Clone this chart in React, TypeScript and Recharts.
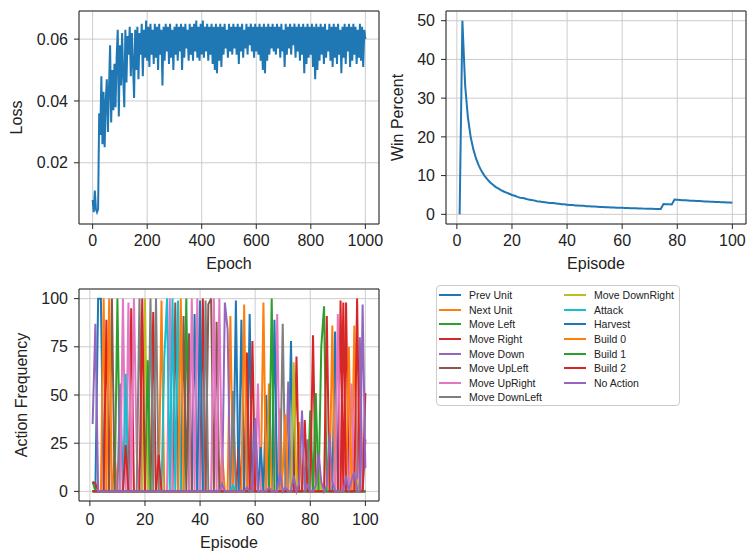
import React from 'react'
import { LineChart, Line, XAxis, YAxis, CartesianGrid, ReferenceArea, Legend } from 'recharts'

const FONT = '"Liberation Sans", Arial, sans-serif'
const TEXT = '#222222'
const GRID = '#cccccc'
const FRAME = '#262626'

// loss sampled every 4 epochs (0..1000)
const lossValues = [
  0.008, 0.004, 0.011, 0.005, 0.004, 0.005, 0.036, 0.029, 0.048, 0.026,
  0.043, 0.025, 0.040, 0.047, 0.030, 0.044, 0.058, 0.033, 0.050, 0.037,
  0.052, 0.038, 0.054, 0.063, 0.035, 0.058, 0.045, 0.062, 0.048, 0.038,
  0.063, 0.046, 0.061, 0.055, 0.064, 0.048, 0.062, 0.052, 0.041, 0.063,
  0.050, 0.064, 0.047, 0.062, 0.055, 0.065, 0.048, 0.063, 0.054, 0.066,
  0.053, 0.064, 0.051, 0.065, 0.055, 0.063, 0.052, 0.065, 0.054, 0.064,
  0.050, 0.065, 0.055, 0.063, 0.045, 0.064, 0.053, 0.065, 0.056, 0.064,
  0.052, 0.065, 0.054, 0.063, 0.050, 0.064, 0.055, 0.065, 0.053, 0.064,
  0.056, 0.065, 0.050, 0.064, 0.054, 0.065, 0.057, 0.063, 0.053, 0.065,
  0.055, 0.064, 0.053, 0.065, 0.056, 0.066, 0.054, 0.064, 0.053, 0.065,
  0.055, 0.066, 0.054, 0.064, 0.056, 0.065, 0.053, 0.064, 0.055, 0.065,
  0.052, 0.064, 0.050, 0.065, 0.049, 0.064, 0.053, 0.065, 0.051, 0.064,
  0.055, 0.065, 0.057, 0.063, 0.054, 0.065, 0.056, 0.064, 0.055, 0.065,
  0.057, 0.064, 0.055, 0.065, 0.052, 0.064, 0.056, 0.065, 0.054, 0.063,
  0.057, 0.065, 0.055, 0.064, 0.058, 0.065, 0.056, 0.064, 0.054, 0.065,
  0.056, 0.064, 0.055, 0.065, 0.053, 0.064, 0.050, 0.065, 0.049, 0.064,
  0.053, 0.065, 0.055, 0.064, 0.057, 0.065, 0.056, 0.064, 0.055, 0.065,
  0.057, 0.064, 0.054, 0.065, 0.056, 0.063, 0.051, 0.065, 0.055, 0.064,
  0.057, 0.065, 0.055, 0.064, 0.058, 0.065, 0.054, 0.064, 0.056, 0.065,
  0.053, 0.064, 0.055, 0.065, 0.049, 0.064, 0.052, 0.065, 0.054, 0.064,
  0.055, 0.065, 0.051, 0.064, 0.047, 0.065, 0.050, 0.064, 0.053, 0.065,
  0.055, 0.064, 0.052, 0.065, 0.054, 0.063, 0.056, 0.065, 0.053, 0.064,
  0.051, 0.065, 0.054, 0.064, 0.052, 0.065, 0.055, 0.063, 0.049, 0.064,
  0.054, 0.065, 0.052, 0.064, 0.056, 0.065, 0.051, 0.064, 0.053, 0.065,
  0.055, 0.064, 0.052, 0.063, 0.054, 0.065, 0.053, 0.064, 0.051, 0.063,
  0.060,
]
const lossXTicks = [0, 200, 400, 600, 800, 1000]
const lossYTicks = [0.02, 0.04, 0.06]

// win percent for episodes 1..100
const winPercent = [
  0, 50, 33.3, 25, 20, 16.7, 14.3, 12.5, 11.1, 10,
  9.1, 8.3, 7.7, 7.1, 6.7, 6.25, 5.9, 5.6, 5.3, 5,
  4.8, 4.5, 4.3, 4.2, 4, 3.8, 3.7, 3.6, 3.4, 3.3,
  3.2, 3.1, 3.0, 2.9, 2.9, 2.8, 2.7, 2.6, 2.6, 2.5,
  2.4, 2.4, 2.3, 2.3, 2.2, 2.2, 2.1, 2.1, 2.0, 2.0,
  1.96, 1.92, 1.89, 1.85, 1.82, 1.79, 1.75, 1.72, 1.69, 1.67,
  1.64, 1.61, 1.59, 1.56, 1.54, 1.52, 1.49, 1.47, 1.45, 1.43,
  1.41, 1.39, 1.37, 1.35, 2.67, 2.63, 2.6, 2.56, 3.8, 3.75,
  3.7, 3.66, 3.61, 3.57, 3.53, 3.49, 3.45, 3.41, 3.37, 3.33,
  3.3, 3.26, 3.23, 3.19, 3.16, 3.13, 3.09, 3.06, 3.03, 3.0,
]
const episodeTicks = [0, 20, 40, 60, 80, 100]
const winYTicks = [0, 10, 20, 30, 40, 50]

const actionNames = [
  'Prev Unit', 'Next Unit', 'Move Left', 'Move Right', 'Move Down',
  'Move UpLeft', 'Move UpRight', 'Move DownLeft', 'Move DownRight', 'Attack',
  'Harvest', 'Build 0', 'Build 1', 'Build 2', 'No Action',
]
const actionColors = [
  '#1f77b4', '#ff7f0e', '#2ca02c', '#d62728', '#9467bd',
  '#8c564b', '#e377c2', '#7f7f7f', '#bcbd22', '#17becf',
  '#1f77b4', '#ff7f0e', '#2ca02c', '#d62728', '#9467bd',
]
// most frequent action per episode (index into actionNames) and its frequency
const topAction = [
  14, 14, 0, 0, 1, 3, 11, 5, 1, 2,
  4, 6, 9, 6, 3, 6, 6, 7, 13, 8,
  12, 7, 3, 7, 13, 1, 9, 9, 6, 9,
  5, 9, 11, 5, 2, 5, 6, 0, 6, 10,
  3, 7, 5, 5, 6, 5, 6, 1, 4, 4,
  1, 7, 0, 3, 10, 11, 3, 0, 13, 14,
  6, 10, 1, 0, 11, 12, 10, 6, 1, 7,
  11, 4, 0, 8, 3, 1, 14, 13, 7, 2,
  3, 12, 8, 2, 2, 13, 14, 1, 0, 6,
  3, 13, 3, 11, 6, 1, 13, 4, 14, 3,
]
const topFrequency = [
  35, 87, 100, 100, 100, 89, 100, 100, 19, 100,
  56, 100, 61, 98, 95, 100, 20, 100, 100, 100,
  68, 100, 93, 100, 19, 99, 68, 100, 100, 100,
  98, 99, 100, 91, 100, 82, 100, 92, 100, 99,
  100, 99, 97, 100, 100, 88, 100, 20, 98, 84,
  91, 52, 99, 23, 89, 97, 72, 92, 78, 38,
  56, 23, 98, 50, 56, 100, 89, 92, 43, 87,
  40, 57, 78, 67, 70, 36, 42, 37, 27, 42,
  81, 51, 18, 75, 96, 91, 30, 86, 83, 92,
  99, 98, 98, 75, 56, 86, 100, 80, 97, 51,
]
// smaller secondary frequencies: [episode, action, frequency]
const minorFrequency: [number, number, number][] = [
  [1, 3, 5], [1, 2, 5], [2, 3, 4], [13, 13, 24], [48, 14, 4], [52, 9, 3],
  [57, 14, 2], [60, 3, 38], [65, 14, 2], [69, 14, 10], [70, 11, 10],
  [71, 14, 2], [74, 14, 8], [76, 14, 4], [79, 14, 3], [82, 14, 3],
  [83, 14, 20], [84, 14, 5], [86, 14, 3], [88, 14, 5], [93, 14, 8],
  [95, 14, 6], [96, 14, 10], [97, 8, 5], [100, 13, 27], [100, 14, 12],
]
const actionYTicks = [0, 25, 50, 75, 100]

const lossData = lossValues.map((v, i) => ({ epoch: i * 4, loss: v }))
const winData = winPercent.map((v, i) => ({ episode: i + 1, win: v }))
const actionData = topAction.map((a, i) => {
  const row: Record<string, number> = { episode: i + 1 }
  actionNames.forEach(n => { row[n] = 0 })
  row[actionNames[a]] = topFrequency[i]
  return row
})
minorFrequency.forEach(([ep, a, f]) => {
  const row = actionData[ep - 1]
  if (row[actionNames[a]] === 0) row[actionNames[a]] = f
})

const tickStyle = { fontSize: 16, fill: TEXT, fontFamily: FONT }
const tickLine = { stroke: FRAME, strokeWidth: 1 }

function ActionLegend(props: any) {
  const items = [...(props.payload || [])].sort(
    (a: any, b: any) => actionNames.indexOf(a.value) - actionNames.indexOf(b.value)
  )
  return (
    <div style={{
      width: 244, height: 121, boxSizing: 'border-box', border: '1px solid #cccccc',
      borderRadius: 4, background: '#fff', padding: '2px 0 0 2px',
      display: 'grid', gridTemplateRows: 'repeat(8, 14.6px)', gridAutoFlow: 'column',
      gridTemplateColumns: '125px 115px', fontFamily: FONT,
    }}>
      {items.map((it: any) => (
        <div key={it.value} style={{ display: 'flex', alignItems: 'center', whiteSpace: 'nowrap' }}>
          <span style={{ display: 'inline-block', width: 22, height: 2, background: it.color, marginRight: 8 }} />
          <span style={{ fontSize: 10.5, color: TEXT }}>{it.value}</span>
        </div>
      ))}
    </div>
  )
}

export default function App() {
  return (
    <div style={{ position: 'absolute', left: 0, top: 0, width: 747, height: 553, background: '#fff', fontFamily: FONT }}>
      <div style={{ position: 'absolute', left: 0, top: 0 }}>
        <LineChart width={400} height={280} data={lossData} margin={{ top: 11, right: 21, left: 0, bottom: 0 }}>
          <CartesianGrid stroke={GRID} strokeWidth={1} />
          <XAxis dataKey="epoch" type="number" domain={[-50, 1050]} ticks={lossXTicks} interval={0}
            allowDataOverflow height={56} axisLine={false} tickSize={5} tickMargin={6}
            tickLine={tickLine} tick={tickStyle}
            label={{ value: 'Epoch', position: 'insideBottom', offset: 11, fill: TEXT, fontSize: 16 }} />
          <YAxis type="number" domain={[0.0002, 0.0691]} ticks={lossYTicks} interval={0}
            allowDataOverflow width={79} axisLine={false} tickSize={5} tickMargin={6}
            tickLine={tickLine} tick={tickStyle} tickFormatter={(v: number) => v.toFixed(2)}
            label={{ value: 'Loss', angle: -90, position: 'insideLeft', offset: 16, fill: TEXT, fontSize: 16, style: { textAnchor: 'middle' } }} />
          <Line dataKey="loss" stroke="#1f77b4" strokeWidth={2} dot={false} isAnimationActive={false} />
          <ReferenceArea x1={-50} x2={1050} y1={0.0002} y2={0.0691} fill="none" stroke={FRAME} strokeWidth={1} ifOverflow="visible" />
        </LineChart>
      </div>

      <div style={{ position: 'absolute', left: 380, top: 0 }}>
        <LineChart width={367} height={280} data={winData} margin={{ top: 11, right: 1, left: 0, bottom: 0 }}>
          <CartesianGrid stroke={GRID} strokeWidth={1} />
          <XAxis dataKey="episode" type="number" domain={[-3.95, 104.95]} ticks={episodeTicks} interval={0}
            allowDataOverflow height={56} axisLine={false} tickSize={5} tickMargin={6}
            tickLine={tickLine} tick={tickStyle}
            label={{ value: 'Episode', position: 'insideBottom', offset: 11, fill: TEXT, fontSize: 16 }} />
          <YAxis type="number" domain={[-2.5, 52.5]} ticks={winYTicks} interval={0}
            allowDataOverflow width={66} axisLine={false} tickSize={5} tickMargin={6}
            tickLine={tickLine} tick={tickStyle}
            label={{ value: 'Win Percent', angle: -90, position: 'insideLeft', offset: 17, fill: TEXT, fontSize: 16, style: { textAnchor: 'middle' } }} />
          <Line dataKey="win" stroke="#1f77b4" strokeWidth={2} dot={false} isAnimationActive={false} />
          <ReferenceArea x1={-3.95} x2={104.95} y1={-2.5} y2={52.5} fill="none" stroke={FRAME} strokeWidth={1} ifOverflow="visible" />
        </LineChart>
      </div>

      <div style={{ position: 'absolute', left: 0, top: 280 }}>
        <LineChart width={747} height={273} data={actionData} margin={{ top: 9, right: 368, left: 0, bottom: 0 }}>
          <CartesianGrid stroke={GRID} strokeWidth={1} />
          <XAxis dataKey="episode" type="number" domain={[-3.95, 104.95]} ticks={episodeTicks} interval={0}
            allowDataOverflow height={52} axisLine={false} tickSize={5} tickMargin={8}
            tickLine={tickLine} tick={tickStyle}
            label={{ value: 'Episode', position: 'insideBottom', offset: 5, fill: TEXT, fontSize: 16 }} />
          <YAxis type="number" domain={[-5, 105]} ticks={actionYTicks} interval={0}
            allowDataOverflow width={79} axisLine={false} tickSize={5} tickMargin={6}
            tickLine={tickLine} tick={tickStyle}
            label={{ value: 'Action Frequency', angle: -90, position: 'insideLeft', offset: 21, fill: TEXT, fontSize: 16, style: { textAnchor: 'middle' } }} />
          {actionNames.map((n, i) => (
            <Line key={n} dataKey={n} name={n} stroke={actionColors[i]} strokeWidth={2} dot={false} isAnimationActive={false} />
          ))}
          <ReferenceArea x1={-3.95} x2={104.95} y1={-5} y2={105} fill="none" stroke={FRAME} strokeWidth={1} ifOverflow="visible" />
          <Legend layout="vertical" align="center" verticalAlign="middle" content={ActionLegend}
            wrapperStyle={{ left: 436, top: 5, width: 244, height: 121 }} />
        </LineChart>
      </div>
    </div>
  )
}
